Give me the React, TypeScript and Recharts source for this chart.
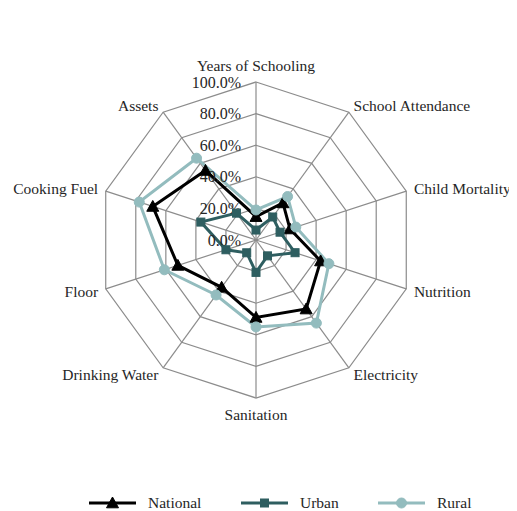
import React from 'react';
import { RadarChart, Radar, PolarGrid, PolarAngleAxis, PolarRadiusAxis, Legend } from 'recharts';

const categories = ['Years of Schooling', 'School Attendance', 'Child Mortality', 'Nutrition', 'Electricity', 'Sanitation', 'Drinking Water', 'Floor', 'Cooking Fuel', 'Assets'];
const national = [0.148, 0.29, 0.226, 0.43, 0.54, 0.49, 0.37, 0.52, 0.687, 0.544];
const urban = [0.063, 0.18, 0.16, 0.26, 0.124, 0.205, 0.10, 0.20, 0.367, 0.21];
const rural = [0.19, 0.34, 0.265, 0.485, 0.65, 0.55, 0.43, 0.61, 0.777, 0.64];
const radiusTicks = [0, 0.2, 0.4, 0.6, 0.8, 1];

const seriesNames = ['National', 'Urban', 'Rural'];
const COLORS = { National: '#000000', Urban: '#2E5E60', Rural: '#93BCBE' };
const FONT = '"Liberation Serif", "Times New Roman", serif';
const TEXT = '#262626';

const data = categories.map((c, i) => ({ category: c, National: national[i], Urban: urban[i], Rural: rural[i] }));

const Marker = ({ kind, cx, cy, color }: any) => {
  if (cx == null || cy == null) return null;
  if (kind === 'National') {
    const s = 6;
    return <polygon points={`${cx},${cy - s} ${cx + s},${cy + s * 0.8} ${cx - s},${cy + s * 0.8}`} fill={color} stroke={color} strokeWidth={1} />;
  }
  if (kind === 'Urban') {
    return <rect x={cx - 4} y={cy - 4} width={8} height={8} fill={color} stroke={color} strokeWidth={1} />;
  }
  return <circle cx={cx} cy={cy} r={5} fill={color} stroke={color} strokeWidth={1} />;
};

const AngleTick = (props: any) => {
  const { x, y, textAnchor, payload } = props;
  const s = Math.sin(((payload?.coordinate ?? 0) * Math.PI) / 180);
  let dy = 0;
  if (s > 0.99) dy = -9;
  else if (s < -0.99) dy = 8;
  return (
    <text x={x} y={y + dy} textAnchor={textAnchor} dominantBaseline="central" fill={TEXT} fontFamily={FONT} fontSize={15.5}>
      {payload.value}
    </text>
  );
};

const RadiusTick = (props: any) => {
  const { x, y, payload } = props;
  return (
    <text x={x - 15} y={y} textAnchor="end" dominantBaseline="central" fill={TEXT} fontFamily={FONT} fontSize={16}>
      {`${(payload.value * 100).toFixed(1)}%`}
    </text>
  );
};

const itemWidths = [152, 137, 100];

const LegendContent = () => (
  <div style={{ display: 'flex', alignItems: 'center', fontFamily: FONT, fontSize: 15.5, color: TEXT, paddingLeft: 81 }}>
    {seriesNames.map((n, i) => (
      <div key={n} style={{ display: 'flex', alignItems: 'center', width: itemWidths[i] }}>
        <svg width={47} height={14} style={{ marginRight: 12 }}>
          <line x1={0} y1={7} x2={47} y2={7} stroke={(COLORS as any)[n]} strokeWidth={3} />
          <Marker kind={n} cx={23.5} cy={7} color={(COLORS as any)[n]} />
        </svg>
        <span>{n}</span>
      </div>
    ))}
  </div>
);

export default function App() {
  return (
    <RadarChart width={509} height={503} data={data} cx={248} cy={232} outerRadius={158} margin={{ top: 0, right: 0, bottom: 0, left: 0 }}>
      <PolarGrid gridType="polygon" stroke="#8C8C8C" strokeWidth={1.2} radialLines={true} />
      <PolarAngleAxis dataKey="category" tick={<AngleTick />} tickLine={false} axisLine={false} />
      <PolarRadiusAxis angle={90} domain={[0, 1]} ticks={radiusTicks as any} tickCount={6} axisLine={false} tickLine={false} tick={<RadiusTick />} />
      {seriesNames.map((n) => (
        <Radar
          key={n}
          name={n}
          dataKey={n}
          stroke={(COLORS as any)[n]}
          strokeWidth={3}
          fill="none"
          fillOpacity={0}
          isAnimationActive={false}
          dot={(p: any) => <Marker key={`${n}-${p.index}`} kind={n} cx={p.cx} cy={p.cy} color={(COLORS as any)[n]} />}
        />
      ))}
      <Legend content={<LegendContent />} wrapperStyle={{ left: 0, top: 486, width: 509 }} />
    </RadarChart>
  );
}
